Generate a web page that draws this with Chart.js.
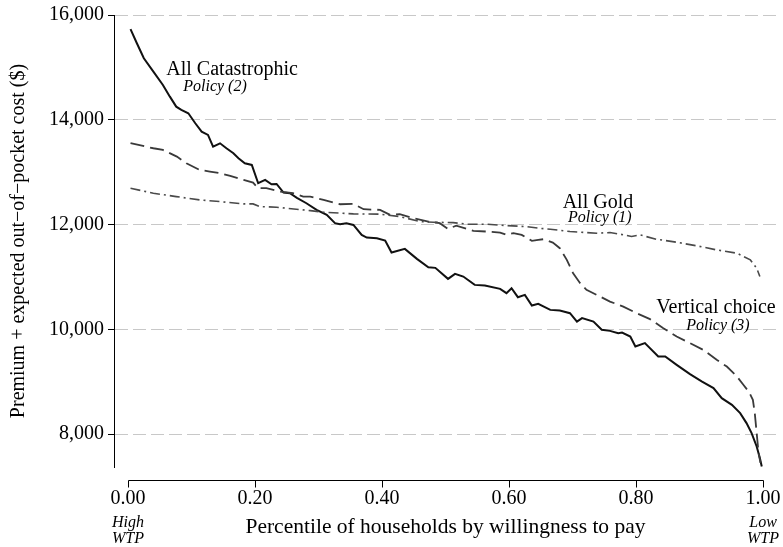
<!DOCTYPE html>
<html>
<head>
<meta charset="utf-8">
<script src="https://cdn.jsdelivr.net/npm/chart.js@4.4.0/dist/chart.umd.min.js"></script>
<style>
  html, body { margin: 0; padding: 0; background: #fff; }
  #chart { display: block; }
</style>
</head>
<body>
<canvas id="chart" width="783" height="547"></canvas>
<script>
// tick values
const xTicks = [0, 0.2, 0.4, 0.6, 0.8, 1.0];
const yTicks = [8000, 10000, 12000, 14000, 16000];

// All Catastrophic, Policy (2) - solid
const catX = [0.004, 0.014, 0.025, 0.040, 0.055, 0.066, 0.076, 0.084, 0.095, 0.106, 0.116, 0.126, 0.134, 0.145,
  0.155, 0.166, 0.174, 0.184, 0.195, 0.205, 0.216, 0.226, 0.234, 0.245, 0.255, 0.266, 0.281, 0.297, 0.313,
  0.326, 0.334, 0.344, 0.355, 0.368, 0.376, 0.392, 0.405, 0.415, 0.436, 0.455, 0.473, 0.484, 0.504, 0.515,
  0.528, 0.546, 0.562, 0.586, 0.596, 0.604, 0.614, 0.625, 0.636, 0.646, 0.665, 0.680, 0.696, 0.707, 0.715,
  0.733, 0.746, 0.759, 0.772, 0.778, 0.791, 0.799, 0.814, 0.835, 0.846, 0.864, 0.885, 0.904, 0.922, 0.935,
  0.951, 0.964, 0.974, 0.982, 0.990, 0.995, 0.998];
const catY = [15730, 15460, 15174, 14918, 14664, 14441, 14250, 14187, 14124, 13933, 13773, 13710, 13487, 13550,
  13456, 13360, 13265, 13170, 13137, 12788, 12851, 12769, 12775, 12609, 12597, 12510, 12406, 12279, 12183,
  12025, 12006, 12025, 11992, 11800, 11750, 11738, 11693, 11464, 11534, 11344, 11185, 11172, 10962, 11057,
  11006, 10847, 10834, 10771, 10689, 10784, 10612, 10657, 10453, 10485, 10370, 10357, 10307, 10147, 10212,
  10147, 9989, 9969, 9925, 9937, 9861, 9670, 9735, 9479, 9479, 9321, 9143, 9002, 8876, 8685,
  8557, 8399, 8208, 8017, 7762, 7540, 7380];

// Vertical choice, Policy (3) - long dash
const vertX = [0.004, 0.040, 0.055, 0.077, 0.092, 0.113, 0.129, 0.145, 0.161, 0.182, 0.197, 0.205, 0.218, 0.239,
  0.260, 0.276, 0.287, 0.308, 0.334, 0.355, 0.371, 0.397, 0.413, 0.428, 0.449, 0.473, 0.491, 0.504, 0.517,
  0.544, 0.565, 0.586, 0.596, 0.607, 0.620, 0.636, 0.646, 0.654, 0.669, 0.680, 0.691, 0.701, 0.712, 0.722,
  0.738, 0.759, 0.780, 0.801, 0.822, 0.843, 0.864, 0.885, 0.906, 0.927, 0.943, 0.959, 0.969, 0.978, 0.984,
  0.987, 0.990, 0.993, 0.996];
const vertY = [13552, 13456, 13424, 13296, 13170, 13042, 13010, 12979, 12927, 12851, 12800, 12693, 12693, 12628,
  12597, 12533, 12533, 12469, 12387, 12393, 12292, 12279, 12183, 12197, 12120, 12056, 12025, 11916, 11979,
  11878, 11865, 11846, 11802, 11834, 11802, 11687, 11706, 11719, 11655, 11548, 11324, 11070, 10880, 10752,
  10657, 10528, 10433, 10307, 10193, 10021, 9861, 9735, 9606, 9416, 9288, 9097, 8939, 8800, 8653,
  8399, 8017, 7636, 7450];

// All Gold, Policy (1) - dash dot
const goldX = [0.004, 0.040, 0.076, 0.113, 0.145, 0.182, 0.197, 0.208, 0.234, 0.265, 0.287, 0.308, 0.355, 0.397,
  0.428, 0.460, 0.481, 0.512, 0.534, 0.565, 0.596, 0.628, 0.646, 0.665, 0.696, 0.738, 0.759, 0.775, 0.793,
  0.806, 0.832, 0.864, 0.896, 0.927, 0.959, 0.980, 0.990, 0.995];
const goldY = [12693, 12597, 12533, 12469, 12437, 12393, 12393, 12342, 12330, 12292, 12265, 12235, 12202, 12197,
  12151, 12056, 12043, 12036, 12006, 12006, 11979, 11960, 11930, 11910, 11865, 11834, 11846, 11815, 11770,
  11802, 11719, 11662, 11592, 11515, 11452, 11324, 11166, 11006];

const serif = "'Liberation Serif', 'Times New Roman', Times, serif";

// curve labels, placed in data coordinates
const curveLabels = [
  { text: 'All Catastrophic', x: 0.164, y: 14950, italic: false },
  { text: 'Policy (2)', x: 0.137, y: 14626, italic: true },
  { text: 'All Gold', x: 0.740, y: 12412, italic: false },
  { text: 'Policy (1)', x: 0.743, y: 12126, italic: true },
  { text: 'Vertical choice', x: 0.926, y: 10408, italic: false },
  { text: 'Policy (3)', x: 0.929, y: 10065, italic: true }
];

function toPoints(xs, ys) {
  return xs.map((x, i) => ({ x: x, y: ys[i] }));
}

// Stata-style detached x axis + labels
const decorations = {
  id: 'decorations',
  afterDraw(chart) {
    const ctx = chart.ctx;
    const xs = chart.scales.x;
    const ys = chart.scales.y;
    const axisY = chart.chartArea.bottom + 13.5;

    ctx.save();
    ctx.strokeStyle = '#000';
    ctx.lineWidth = 1;
    ctx.setLineDash([]);
    ctx.beginPath();
    ctx.moveTo(Math.round(xs.getPixelForValue(0)) + 0.5, axisY);
    ctx.lineTo(Math.round(xs.getPixelForValue(1)) + 0.5, axisY);
    xTicks.forEach(t => {
      const px = Math.round(xs.getPixelForValue(t)) + 0.5;
      ctx.moveTo(px, axisY);
      ctx.lineTo(px, axisY + 7);
    });
    ctx.stroke();

    ctx.fillStyle = '#000';
    ctx.textAlign = 'center';
    ctx.textBaseline = 'middle';
    curveLabels.forEach(l => {
      ctx.font = l.italic ? `italic 16px ${serif}` : `20px ${serif}`;
      ctx.fillText(l.text, xs.getPixelForValue(l.x), ys.getPixelForValue(l.y));
    });

    ctx.font = `italic 16px ${serif}`;
    const b = chart.chartArea.bottom;
    ctx.fillText('High', xs.getPixelForValue(0), b + 56);
    ctx.fillText('WTP', xs.getPixelForValue(0), b + 72);
    ctx.fillText('Low', xs.getPixelForValue(1), b + 56);
    ctx.fillText('WTP', xs.getPixelForValue(1), b + 72);
    ctx.restore();
  }
};

Chart.defaults.font.family = serif;
Chart.defaults.color = '#000';

new Chart(document.getElementById('chart').getContext('2d'), {
  type: 'line',
  data: {
    datasets: [
      {
        label: 'All Gold',
        data: toPoints(goldX, goldY),
        borderColor: '#4a4a4a',
        borderWidth: 1.6,
        borderDash: [10, 4, 2, 4],
        pointRadius: 0,
        tension: 0
      },
      {
        label: 'Vertical choice',
        data: toPoints(vertX, vertY),
        borderColor: '#3a3a3a',
        borderWidth: 1.8,
        borderDash: [14, 6],
        pointRadius: 0,
        tension: 0
      },
      {
        label: 'All Catastrophic',
        data: toPoints(catX, catY),
        borderColor: '#111',
        borderWidth: 2,
        pointRadius: 0,
        tension: 0
      }
    ]
  },
  options: {
    responsive: false,
    animation: false,
    layout: { padding: { top: 15, right: 6, left: 0, bottom: 0 } },
    plugins: {
      legend: { display: false },
      tooltip: { enabled: false }
    },
    scales: {
      x: {
        type: 'linear',
        min: -0.022,
        max: 1.022,
        afterBuildTicks: s => { s.ticks = xTicks.map(v => ({ value: v })); },
        afterFit: s => { s.height = 80; s.paddingLeft = 0; s.paddingRight = 0; },
        border: { display: false },
        grid: { display: false, drawTicks: false },
        ticks: {
          padding: 20,
          maxRotation: 0,
          autoSkip: false,
          font: { size: 20 },
          color: '#000',
          callback: v => Number(v).toFixed(2)
        },
        title: {
          display: true,
          text: 'Percentile of households by willingness to pay',
          font: { size: 21.5 },
          color: '#000',
          padding: { top: 0, bottom: 7 }
        }
      },
      y: {
        type: 'linear',
        min: 7370,
        max: 16000,
        afterBuildTicks: s => { s.ticks = yTicks.map(v => ({ value: v })); },
        afterFit: s => { s.width = 114; s.paddingTop = 0; s.paddingBottom = 0; },
        border: { display: true, color: '#000', width: 1, dash: [13, 5] },
        grid: {
          color: '#c8c8c8',
          lineWidth: 1,
          tickLength: 6,
          tickColor: '#000',
          tickWidth: 1,
          tickBorderDash: []
        },
        ticks: {
          padding: 4,
          font: { size: 20 },
          color: '#000',
          callback: v => Number(v).toLocaleString('en-US')
        },
        title: {
          display: true,
          text: 'Premium + expected out\u2212of\u2212pocket cost ($)',
          font: { size: 20 },
          color: '#000',
          padding: { top: 7, bottom: 0 }
        }
      }
    }
  },
  plugins: [decorations]
});
</script>
</body>
</html>
